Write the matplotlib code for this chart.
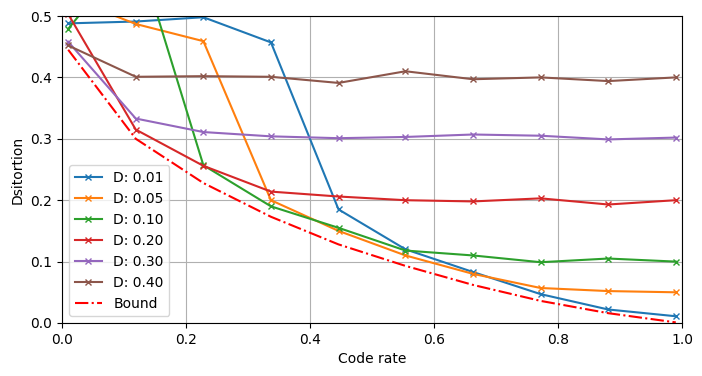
import numpy as np
import matplotlib
matplotlib.use("Agg")
import matplotlib.pyplot as plt

rates = [0.01, 0.119, 0.228, 0.337, 0.446, 0.554, 0.663, 0.772, 0.881, 0.99]
labels = ["D: 0.01", "D: 0.05", "D: 0.10", "D: 0.20", "D: 0.30", "D: 0.40"]
d001 = [0.488, 0.491, 0.498, 0.457, 0.185, 0.120, 0.083, 0.047, 0.022, 0.011]
d005 = [0.530, 0.487, 0.459, 0.200, 0.150, 0.110, 0.080, 0.057, 0.052, 0.050]
d010 = [0.479, 0.615, 0.257, 0.190, 0.155, 0.118, 0.110, 0.099, 0.105, 0.100]
d020 = [0.503, 0.315, 0.256, 0.214, 0.206, 0.200, 0.198, 0.203, 0.193, 0.200]
d030 = [0.458, 0.333, 0.311, 0.304, 0.301, 0.303, 0.307, 0.305, 0.299, 0.302]
d040 = [0.452, 0.401, 0.402, 0.401, 0.391, 0.410, 0.397, 0.400, 0.394, 0.400]
bound = [0.445, 0.300, 0.228, 0.173, 0.128, 0.093, 0.062, 0.036, 0.016, 0.001]

fig = plt.figure(figsize=(7.02, 3.76), dpi=100)
ax = fig.add_axes([62/702, 1-323/376, 620/702, 307/376])
for lab, ys in zip(labels, [d001, d005, d010, d020, d030, d040]):
    ax.plot(rates, ys, marker="x", markersize=4.5, label=lab)
ax.plot(rates, bound, "r-.", label="Bound")
ax.set_xlim(0, 1)
ax.set_ylim(0, 0.5)
ax.grid(True)
ax.set_xlabel("Code rate")
ax.set_ylabel("Dsitortion")
ax.legend(loc="lower left")
fig.savefig("out.png", dpi=100)
